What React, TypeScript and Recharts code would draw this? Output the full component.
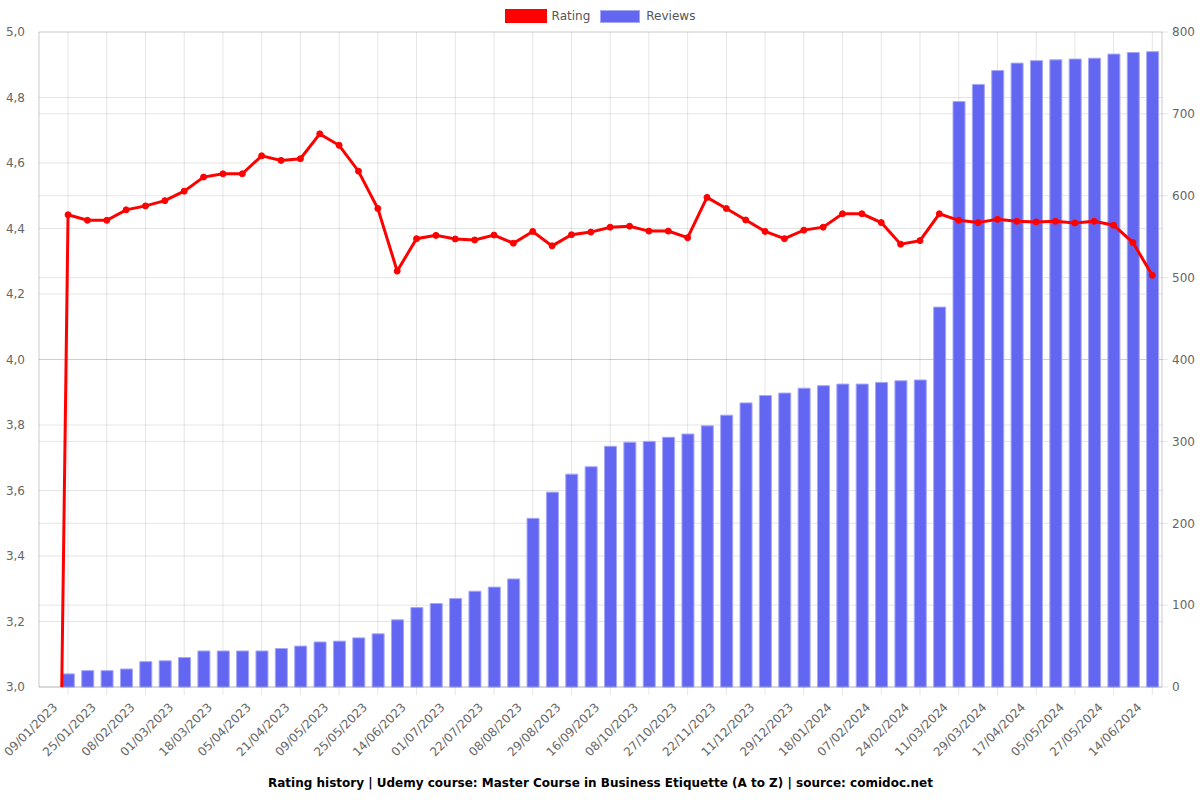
import { ComposedChart, Bar, Line, XAxis, YAxis, CartesianGrid, Legend, Label } from 'recharts';

// every other snapshot carries a date label (odd indices 1..57)
const dateLabels = [
  '09/01/2023', '25/01/2023', '08/02/2023', '01/03/2023', '18/03/2023', '05/04/2023',
  '21/04/2023', '09/05/2023', '25/05/2023', '14/06/2023', '01/07/2023', '22/07/2023',
  '08/08/2023', '29/08/2023', '16/09/2023', '08/10/2023', '27/10/2023', '22/11/2023',
  '11/12/2023', '29/12/2023', '18/01/2024', '07/02/2024', '24/02/2024', '11/03/2024',
  '29/03/2024', '17/04/2024', '05/05/2024', '27/05/2024', '14/06/2024',
];

const ratings = [
  0, 4.442, 4.425, 4.425, 4.457, 4.469, 4.485, 4.514, 4.557, 4.567,
  4.567, 4.622, 4.608, 4.613, 4.689, 4.654, 4.575, 4.461, 4.27, 4.369,
  4.379, 4.368, 4.365, 4.38, 4.355, 4.391, 4.347, 4.381, 4.389, 4.404,
  4.407, 4.392, 4.392, 4.372, 4.495, 4.461, 4.426, 4.391, 4.369, 4.395,
  4.404, 4.445, 4.445, 4.418, 4.352, 4.363, 4.445, 4.425, 4.418, 4.428,
  4.422, 4.42, 4.422, 4.417, 4.422, 4.41, 4.357, 4.257,
];

const reviews = [
  0, 16, 20, 20, 22, 31, 32, 36, 44, 44,
  44, 44, 47, 50, 55, 56, 60, 65, 82, 97,
  102, 108, 117, 122, 132, 206, 238, 260, 269, 294,
  299, 300, 305, 309, 319, 332, 347, 356, 359, 365,
  368, 370, 370, 372, 374, 375, 464, 715, 736, 753,
  762, 765, 766, 767, 768, 773, 775, 776,
];

const ratingTicks = [3, 3.2, 3.4, 3.6, 3.8, 4, 4.2, 4.4, 4.6, 4.8, 5];
const reviewTicks = [0, 100, 200, 300, 400, 500, 600, 700, 800];

const rows = ratings.map((rating, i) => ({ i, rating, reviews: reviews[i] }));
const labelledIdx = dateLabels.map((_, k) => k * 2 + 1);

const gridColor = 'rgba(0,0,0,0.1)';
const tickColor = '#666';
const RED = '#ff0000';
const INDIGO = '#6366f1';

const DateTick = (props: any) => {
  const { x, y, payload } = props;
  const ax = x - 10;
  const ay = y + 11;
  return (
    <text x={ax} y={ay} transform={`rotate(-45 ${ax} ${ay})`} textAnchor='end' fontSize={12} fill={tickColor}>
      {dateLabels[(payload.value - 1) / 2]}
    </text>
  );
};

const LegendBox = () => (
  <div style={{ height: 26, display: 'flex', justifyContent: 'center', alignItems: 'flex-start', fontSize: 12, color: '#555' }}>
    <div style={{ display: 'flex', alignItems: 'center', height: 20, marginRight: 10 }}>
      <span style={{ width: 40, height: 12, background: RED, border: `1.5px solid ${RED}`, marginRight: 5 }} />
      <span>Rating</span>
    </div>
    <div style={{ display: 'flex', alignItems: 'center', height: 20 }}>
      <span style={{ width: 38, height: 11, background: INDIGO, border: '1px solid #a5a8f7', marginRight: 6 }} />
      <span>Reviews</span>
    </div>
  </div>
);

const App = () => {
  return (
    <div style={{ position: 'absolute', left: 0, top: 0, fontFamily: '"DejaVu Sans", sans-serif' }}>
      <ComposedChart width={1200} height={800} data={rows} margin={{ top: 6, right: 0, bottom: 0, left: 0 }}>
        <CartesianGrid yAxisId='left' stroke={gridColor} />
        <CartesianGrid yAxisId='right' vertical={false} stroke={gridColor} />
        <XAxis
          dataKey='i'
          type='category'
          ticks={labelledIdx}
          interval={0}
          height={113}
          tickSize={8}
          tickMargin={2}
          tick={<DateTick />}
          tickLine={{ stroke: gridColor }}
          axisLine={{ stroke: gridColor }}
        >
          <Label
            value='Rating history | Udemy course: Master Course in Business Etiquette (A to Z) | source: comidoc.net'
            position='insideBottom'
            offset={13}
            style={{ fontSize: 12, fontWeight: 'bold', fill: '#000' }}
          />
        </XAxis>
        <YAxis
          yAxisId='left'
          domain={[3, 5]}
          ticks={ratingTicks}
          allowDataOverflow
          width={39}
          tickLine={false}
          tickMargin={8}
          axisLine={{ stroke: gridColor }}
          tick={{ fontSize: 12, fill: tickColor }}
          tickFormatter={(v: number) => v.toFixed(1).replace('.', ',')}
        />
        <YAxis
          yAxisId='right'
          orientation='right'
          domain={[0, 800]}
          ticks={reviewTicks}
          width={38}
          tickSize={6}
          tickMargin={4}
          tickLine={{ stroke: gridColor }}
          axisLine={{ stroke: gridColor }}
          tick={{ fontSize: 12, fill: tickColor, textAnchor: 'start' }}
        />
        <Legend verticalAlign='top' content={() => <LegendBox />} />
        <Bar
          yAxisId='right'
          dataKey='reviews'
          fill={INDIGO}
          stroke='#a5a8f7'
          strokeWidth={1}
          barSize={12}
          isAnimationActive={false}
        />
        <Line
          yAxisId='left'
          dataKey='rating'
          stroke={RED}
          strokeWidth={3}
          dot={{ r: 3, fill: RED, stroke: RED, strokeWidth: 1 }}
          isAnimationActive={false}
        />
      </ComposedChart>
    </div>
  );
};

export default App;
